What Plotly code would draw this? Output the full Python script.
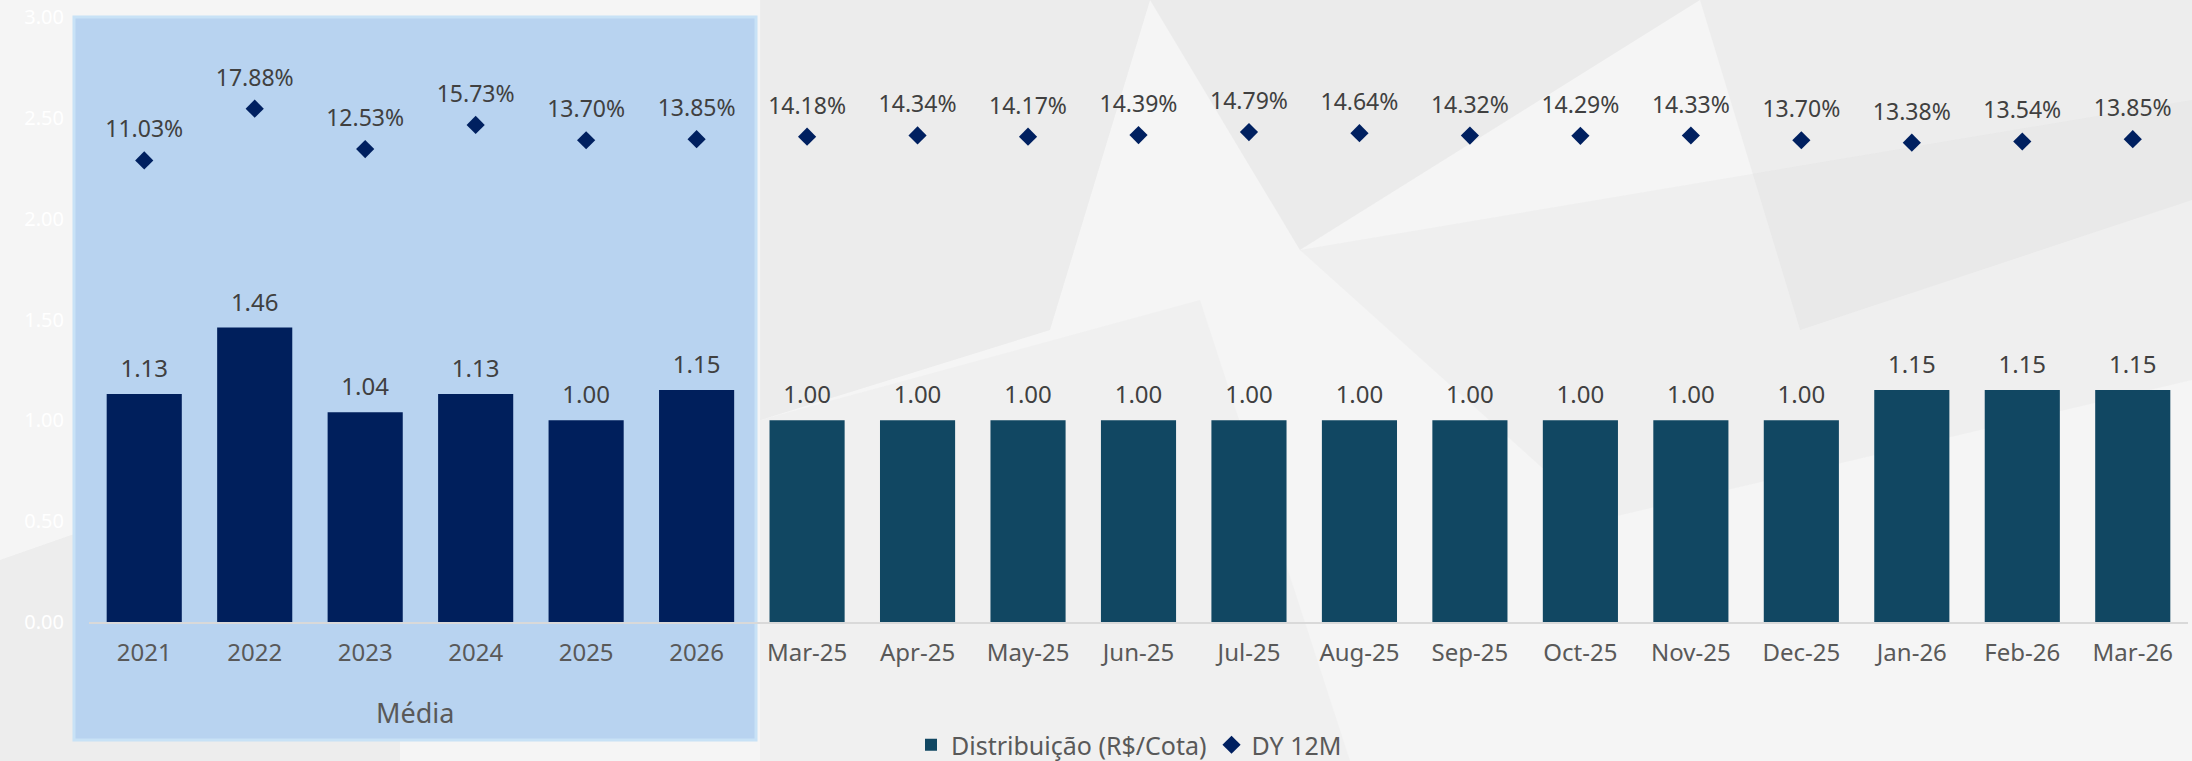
import plotly.graph_objects as go

categories = ["2021", "2022", "2023", "2024", "2025", "2026",
              "Mar-25", "Apr-25", "May-25", "Jun-25", "Jul-25", "Aug-25",
              "Sep-25", "Oct-25", "Nov-25", "Dec-25", "Jan-26", "Feb-26", "Mar-26"]
distribuicao = [1.13, 1.46, 1.04, 1.13, 1.00, 1.15,
                1.00, 1.00, 1.00, 1.00, 1.00, 1.00,
                1.00, 1.00, 1.00, 1.00, 1.15, 1.15, 1.15]
dy_12m = [0.1103, 0.1788, 0.1253, 0.1573, 0.1370, 0.1385,
          0.1418, 0.1434, 0.1417, 0.1439, 0.1479, 0.1464,
          0.1432, 0.1429, 0.1433, 0.1370, 0.1338, 0.1354, 0.1385]
n_media = 6
y_ticks = [0, 0.5, 1.0, 1.5, 2.0, 2.5, 3.0]

FONT = "Noto Sans"
TXT = "#404040"
NAVY = "#001F5C"
TEAL = "#114762"

W, H = 2192, 761
L, R, T, B = 89, 4, 17, 139
pw, ph = W - L - R, H - T - B

def px(x):
    return (x - L) / pw

def py(y):
    return (H - B - y) / ph

fig = go.Figure()

fig.add_trace(go.Bar(
    x=categories[:n_media], y=distribuicao[:n_media],
    marker=dict(color=NAVY, line=dict(width=0)),
    showlegend=False, name="Distribuição (R$/Cota)", hoverinfo="x+y"))

fig.add_trace(go.Bar(
    x=categories[n_media:], y=distribuicao[n_media:],
    marker=dict(color=TEAL, line=dict(width=0)),
    name="Distribuição (R$/Cota)", hoverinfo="x+y"))

# bar value labels
fig.add_trace(go.Scatter(
    x=categories, y=distribuicao, mode="markers+text",
    marker=dict(size=16, color="rgba(0,0,0,0)"),
    texttemplate="%{y:.2f}", textposition="top center",
    textfont=dict(family=FONT, size=24, color=TXT),
    cliponaxis=False, showlegend=False, hoverinfo="skip"))

fig.add_trace(go.Scatter(
    x=categories, y=dy_12m, yaxis="y2", mode="markers",
    marker=dict(symbol="diamond", size=14, color="#002060"),
    cliponaxis=False, name="DY 12M"))

# DY labels
fig.add_trace(go.Scatter(
    x=categories, y=dy_12m, yaxis="y2", mode="markers+text",
    marker=dict(size=26, color="rgba(0,0,0,0)"),
    texttemplate="%{y:.2%}", textposition="top center",
    textfont=dict(family=FONT, size=23, color=TXT),
    cliponaxis=False, showlegend=False, hoverinfo="skip"))

shapes = []
# subtle faceted background
polys = [
    ([(760, 0), (1150, 0), (1050, 330), (760, 420)], "rgba(200,200,200,0.20)"),
    ([(1150, 0), (1700, 0), (1300, 250)], "rgba(185,185,185,0.16)"),
    ([(1700, 0), (2192, 0), (2192, 200), (1800, 330)], "rgba(200,200,200,0.16)"),
    ([(1300, 250), (2192, 100), (2192, 380), (1600, 520)], "rgba(210,210,210,0.16)"),
    ([(0, 560), (400, 420), (400, 761), (0, 761)], "rgba(205,205,205,0.20)"),
    ([(760, 420), (1200, 300), (1350, 761), (760, 761)], "rgba(215,215,215,0.16)"),
]
for pts, col in polys:
    path = "M " + " L ".join(f"{px(x):.4f},{py(y):.4f}" for x, y in pts) + " Z"
    shapes.append(dict(type="path", xref="paper", yref="paper", path=path,
                       fillcolor=col, line=dict(width=0), layer="below"))

# highlighted "Média" block
shapes.append(dict(type="rect", xref="paper", yref="paper",
                   x0=px(74), x1=px(756), y0=py(740), y1=py(17),
                   fillcolor="#B8D3F0", line=dict(color="#C8E2F6", width=3),
                   layer="below"))

fig.update_layout(
    width=W, height=H,
    margin=dict(l=L, r=R, t=T, b=B, autoexpand=False),
    paper_bgcolor="#F5F5F5", plot_bgcolor="rgba(0,0,0,0)",
    barmode="overlay", bargap=0.32,
    font=dict(family=FONT, color=TXT),
    shapes=shapes,
    xaxis=dict(type="category", categoryorder="array", categoryarray=categories,
               range=[-0.5, len(categories) - 0.5],
               showgrid=False, showline=True, linecolor="#D9D9D9", linewidth=2,
               ticks="", tickfont=dict(family=FONT, size=24, color="#595959"),
               ticklabelstandoff=8, zeroline=False),
    yaxis=dict(range=[0, 3], tickvals=y_ticks, tickformat=".2f",
               showgrid=False, zeroline=False, showline=False,
               tickfont=dict(family=FONT, size=20, color="#FFFFFF"),
               ticklabelstandoff=24),
    yaxis2=dict(range=[-0.5, 0.3], overlaying="y", side="right",
                visible=False, showgrid=False),
    legend=dict(orientation="h", x=px(1129), xanchor="center",
                y=py(745), yanchor="middle",
                font=dict(family=FONT, size=25, color="#595959"),
                bgcolor="rgba(0,0,0,0)"),
    annotations=[dict(text="Média", xref="paper", yref="paper",
                      x=px(415), y=py(713), showarrow=False,
                      xanchor="center", yanchor="middle",
                      font=dict(family=FONT, size=27, color="#595959"))],
)

fig.write_html("out.html", config={"displayModeBar": False},
               post_script="document.body.style.margin='0';")
